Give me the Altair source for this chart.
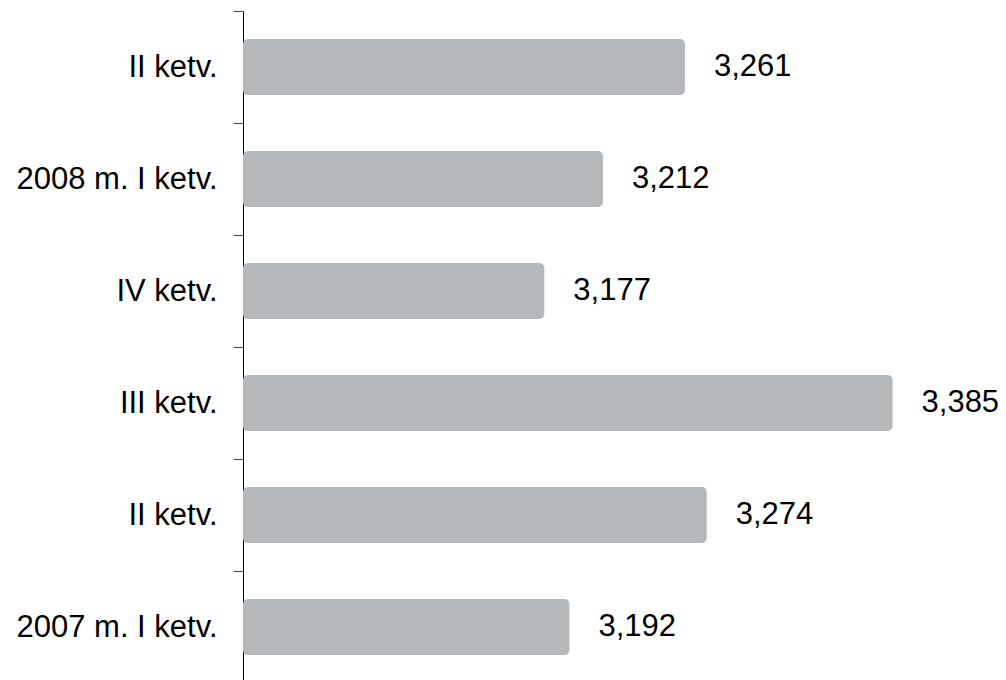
import json
import altair as alt
import pandas as pd

# bottom-to-top order
categories = ["2007 m. I ketv.", "II ketv.", "III ketv.", "IV ketv.", "2008 m. I ketv.", "II ketv."]
values = [3192, 3274, 3385, 3177, 3212, 3261]
x_start = 2997
x_end = 3448

df = pd.DataFrame({
    "idx": list(range(len(categories))),
    "cat": categories,
    "value": values,
})

label_expr = json.dumps(categories) + "[datum.value]"

y_scale = alt.Scale(paddingInner=0, paddingOuter=0)

y_enc = alt.Y(
    "idx:O",
    sort="descending",
    title=None,
    scale=y_scale,
    axis=alt.Axis(
        labelExpr=label_expr,
        labelFont="Liberation Sans",
        labelFontSize=31,
        labelColor="#000000",
        labelPadding=16,
        labelLimit=400,
        tickSize=10,
        tickColor="#444444",
        domainColor="#000000",
        tickBand="extent",
        grid=False,
    ),
)

x_scale = alt.Scale(domain=[x_start, x_end], zero=False, nice=False)

bars = alt.Chart(df).mark_bar(
    color="#b5b8bb", cornerRadiusEnd=5, height={"band": 0.5}
).encode(
    y=y_enc,
    x=alt.X("value:Q", scale=x_scale, axis=None),
    x2=alt.datum(x_start),
)

text = alt.Chart(df).mark_text(
    align="left", baseline="middle", dx=29, dy=0,
    font="Liberation Sans", fontSize=31, color="#000000"
).encode(
    y=alt.Y("idx:O", sort="descending"),
    x=alt.X("value:Q", scale=x_scale, axis=None),
    text=alt.Text("value:Q", format=","),
)

chart = (bars + text).properties(
    width=755,
    height=672,
    autosize=alt.AutoSizeParams(type="none"),
    padding={"left": 235, "top": 3, "right": 0, "bottom": 0},
).configure_view(stroke=None)

chart.save("out.html", embed_options={"renderer": "svg", "actions": False})
